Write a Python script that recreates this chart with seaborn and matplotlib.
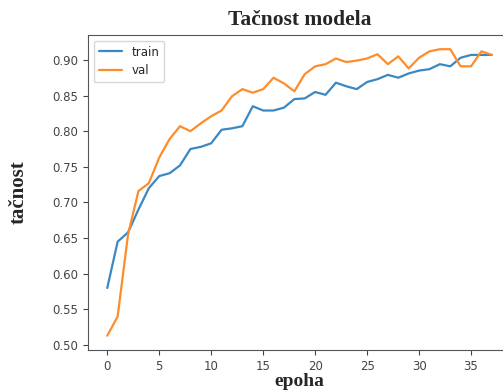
import pandas as pd
import matplotlib.pyplot as plt
import numpy as np
import seaborn as sns

epochs = list(range(38))
train = [0.580, 0.645, 0.658, 0.690, 0.720, 0.737, 0.741, 0.752, 0.775, 0.778,
         0.783, 0.802, 0.804, 0.807, 0.835, 0.829, 0.829, 0.833, 0.845, 0.846,
         0.855, 0.851, 0.868, 0.863, 0.859, 0.869, 0.873, 0.879, 0.875, 0.881,
         0.885, 0.887, 0.894, 0.891, 0.903, 0.907, 0.907, 0.907]
val = [0.513, 0.540, 0.655, 0.716, 0.727, 0.763, 0.789, 0.807, 0.800, 0.811,
       0.821, 0.829, 0.849, 0.859, 0.854, 0.859, 0.875, 0.867, 0.856, 0.880,
       0.891, 0.894, 0.902, 0.897, 0.899, 0.902, 0.908, 0.894, 0.905, 0.888,
       0.903, 0.912, 0.915, 0.915, 0.891, 0.891, 0.912, 0.907]

df = pd.DataFrame({'epoha': epochs * 2,
                   'tacnost': train + val,
                   'skup': ['train'] * len(epochs) + ['val'] * len(epochs)})

sns.set_style("ticks")
plt.rcParams['font.family'] = ['DejaVu Sans']

fig = plt.figure(figsize=(5.03, 3.92), dpi=100)
ax = fig.add_axes([0.175, 0.107, 0.841, 0.804])
sns.lineplot(data=df, x='epoha', y='tacnost', hue='skup',
             palette=['#3a88c4', '#ff8c2a'], linewidth=1.6, ax=ax)

ax.set_yticks(np.arange(0.50, 0.91, 0.05))
ax.set_xticks(np.arange(0, 36, 5))
ax.tick_params(labelsize=8.5, colors='#444444', length=3.5)
for s in ax.spines.values():
    s.set_color('#555555')
    s.set_visible(True)

serif = {'family': ['Liberation Serif', 'DejaVu Serif'], 'weight': 'bold'}
ax.set_title('Tačnost modela', fontdict=serif, fontsize=15.5, pad=7)
ax.set_xlabel('epoha', fontdict=serif, fontsize=14, labelpad=0)
ax.set_ylabel('tačnost', fontdict=serif, fontsize=15, labelpad=17)

leg = ax.legend(loc='upper left', fontsize=8.5, frameon=True)
leg.set_title(None)

plt.savefig('out.png', dpi=100)
